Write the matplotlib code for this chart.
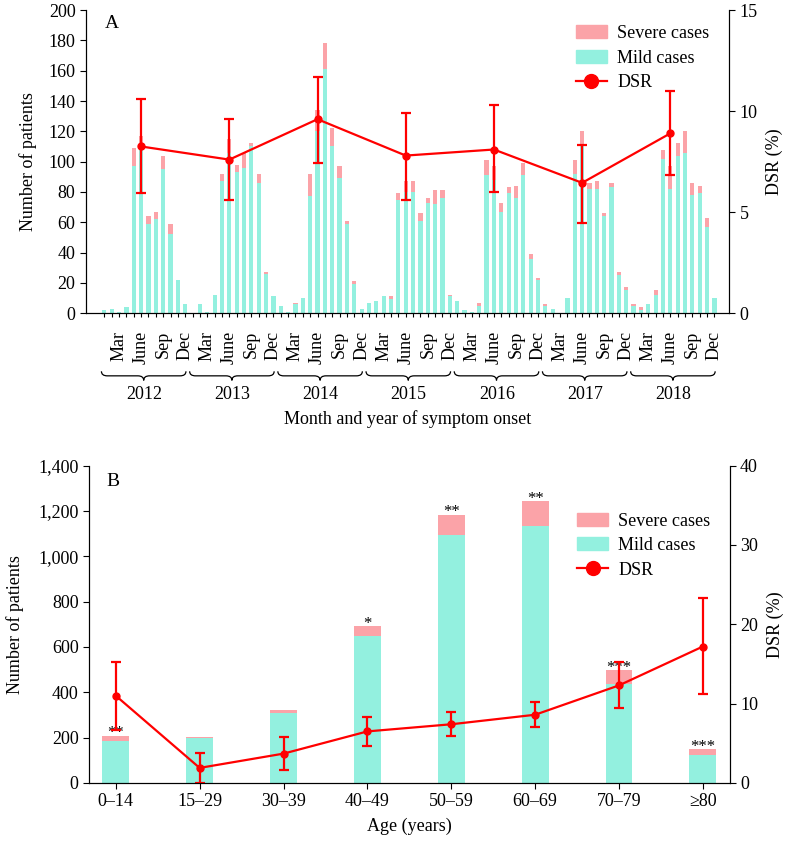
import numpy as np
import matplotlib
matplotlib.use('Agg')
from matplotlib import pyplot as plt
from matplotlib.patches import Patch, PathPatch
from matplotlib.lines import Line2D
from matplotlib.path import Path
from matplotlib.ticker import FuncFormatter
import matplotlib.transforms as mtransforms

plt.rcParams['font.family'] = ['Liberation Serif', 'DejaVu Serif']
plt.rcParams['font.size'] = 13

MILD = '#93f0df'
SEVERE = '#fba3a8'
RED = '#ff0000'

# Panel A: monthly counts 2012-2018
years = ['2012', '2013', '2014', '2015', '2016', '2017', '2018']
total_2012 = [2, 3, 1, 4, 109, 117, 64, 67, 104, 59, 22, 6]
mild_2012 = [2, 3, 1, 4, 97, 108, 59, 62, 95, 52, 22, 6]
total_2013 = [0, 6, 1, 12, 92, 115, 98, 106, 112, 92, 27, 11]
mild_2013 = [0, 6, 1, 12, 87, 106, 93, 96, 110, 86, 26, 11]
total_2014 = [5, 1, 7, 10, 92, 134, 178, 122, 97, 61, 21, 3]
mild_2014 = [5, 1, 6, 10, 77, 120, 161, 110, 89, 59, 19, 3]
total_2015 = [7, 8, 11, 11, 79, 87, 87, 66, 76, 81, 81, 12]
mild_2015 = [7, 8, 11, 9, 75, 80, 80, 61, 73, 72, 76, 11]
total_2016 = [8, 2, 1, 7, 101, 97, 73, 83, 84, 99, 39, 23]
mild_2016 = [8, 2, 1, 5, 91, 88, 67, 79, 76, 91, 36, 22]
total_2017 = [6, 3, 0, 10, 101, 120, 86, 87, 66, 86, 27, 17]
mild_2017 = [5, 3, 0, 10, 92, 111, 82, 82, 64, 83, 25, 15]
total_2018 = [6, 4, 6, 15, 108, 97, 112, 120, 86, 84, 63, 10]
mild_2018 = [5, 2, 6, 12, 102, 82, 104, 106, 78, 79, 57, 10]
month_labels = {2: 'Mar', 5: 'June', 8: 'Sep', 11: 'Dec'}

dsr_year = [8.25, 7.6, 9.6, 7.8, 8.1, 6.45, 8.9]
dsr_year_lo = [5.97, 5.6, 7.45, 5.6, 6.0, 4.45, 6.85]
dsr_year_hi = [10.6, 9.6, 11.7, 9.9, 10.3, 8.3, 11.0]

# Panel B: age groups
ages = ['0\u201314', '15\u201329', '30\u201339', '40\u201349', '50\u201359', '60\u201369', '70\u201379', '\u226580']
total_age = [208, 202, 321, 692, 1183, 1242, 497, 149]
mild_age = [184, 197, 308, 648, 1096, 1135, 437, 124]
dsr_age = [11.0, 1.9, 3.7, 6.5, 7.4, 8.6, 12.3, 17.2]
dsr_age_lo = [6.7, 0.0, 1.6, 4.6, 5.9, 7.0, 9.4, 11.2]
dsr_age_hi = [15.3, 3.8, 5.8, 8.3, 8.9, 10.2, 15.2, 23.3]
sig_age = ['**', '', '', '*', '**', '**', '***', '***']

total_month = np.array(total_2012 + total_2013 + total_2014 + total_2015 +
                       total_2016 + total_2017 + total_2018)
mild_month = np.array(mild_2012 + mild_2013 + mild_2014 + mild_2015 +
                      mild_2016 + mild_2017 + mild_2018)
severe_month = total_month - mild_month


def brace(ax, x0, x1, y_top, y_bot):
    # curly brace opening downward, x in data, y in axes fraction
    xm = (x0 + x1) / 2
    r = 0.8
    ym = (y_top + y_bot) / 2
    verts = [(x0, y_top), (x0, ym), (x0 + r, ym),
             (xm - r, ym), (xm, ym), (xm, y_bot),
             (xm, ym), (xm + r, ym),
             (x1 - r, ym), (x1, ym), (x1, y_top)]
    codes = [Path.MOVETO, Path.CURVE3, Path.CURVE3,
             Path.LINETO, Path.CURVE3, Path.CURVE3,
             Path.CURVE3, Path.CURVE3,
             Path.LINETO, Path.CURVE3, Path.CURVE3]
    trans = mtransforms.blended_transform_factory(ax.transData, ax.transAxes)
    ax.add_patch(PathPatch(Path(verts, codes), transform=trans, fill=False,
                           lw=0.9, color='black', clip_on=False))


fig = plt.figure(figsize=(7.94, 8.44), dpi=100)

# ---------------- Panel A ----------------
ax = fig.add_axes([0.1083, 0.629, 0.810, 0.359])
x = np.arange(len(total_month))
ax.bar(x, mild_month, width=0.57, color=MILD)
ax.bar(x, severe_month, width=0.57, bottom=mild_month, color=SEVERE)
ax.set_xlim(-2.5, 85)
ax.set_ylim(0, 200)
ax.set_yticks(range(0, 201, 20))
ax.set_ylabel('Number of patients', labelpad=8)
ax.set_xticks(x)
ax.set_xticklabels([month_labels.get(i % 12, '') for i in x], rotation=90)
ax.tick_params(axis='x', length=3, pad=10)
ax.tick_params(axis='y', length=4)
ax.spines['top'].set_visible(False)
ax.text(0.03, 0.955, 'A', transform=ax.transAxes, fontsize=14, va='center')

for k, yr in enumerate(years):
    brace(ax, 12 * k - 0.4, 12 * k + 11.1, -0.192, -0.222)
    trans = mtransforms.blended_transform_factory(ax.transData, ax.transAxes)
    ax.text(12 * k + 5.4, -0.268, yr, transform=trans, ha='center', va='center')
ax.text(0.5, -0.35, 'Month and year of symptom onset', transform=ax.transAxes,
        ha='center', va='center')

ax2 = ax.twinx()
xd = np.arange(len(years)) * 12 + 5
ax2.errorbar(xd, dsr_year,
             yerr=[np.array(dsr_year) - np.array(dsr_year_lo),
                   np.array(dsr_year_hi) - np.array(dsr_year)],
             color=RED, lw=1.6, marker='o', ms=5, capsize=3.5, capthick=1.6,
             elinewidth=1.6)
ax2.set_ylim(0, 15)
ax2.set_yticks([0, 5, 10, 15])
ax2.set_ylabel('DSR (%)', labelpad=6)
ax2.spines['top'].set_visible(False)
ax2.tick_params(axis='y', length=4)

handles = [Patch(color=SEVERE), Patch(color=MILD),
           Line2D([], [], color=RED, lw=1.6, marker='o', ms=10)]
ax2.legend(handles, ['Severe cases', 'Mild cases', 'DSR'], loc='upper left',
           bbox_to_anchor=(0.75, 0.975), frameon=False, handlelength=1.75,
           labelspacing=0.42, handletextpad=0.55, borderaxespad=0)

# ---------------- Panel B ----------------
bx = fig.add_axes([0.112, 0.0723, 0.807, 0.376])
xb = np.arange(len(ages))
severe_age = np.array(total_age) - np.array(mild_age)
bx.bar(xb, mild_age, width=0.32, color=MILD)
bx.bar(xb, severe_age, width=0.32, bottom=mild_age, color=SEVERE)
for xi, t, s in zip(xb, total_age, sig_age):
    if s:
        bx.annotate(s, (xi, t), xytext=(0, -4), textcoords='offset points',
                    ha='center', va='bottom', fontsize=12)
bx.set_xlim(-0.32, 7.32)
bx.set_ylim(0, 1400)
bx.set_yticks(range(0, 1401, 200))
bx.yaxis.set_major_formatter(FuncFormatter(lambda v, p: f'{int(v):,}'))
bx.set_xticks(xb)
bx.set_xticklabels(ages)
bx.set_xlabel('Age (years)', labelpad=5)
bx.set_ylabel('Number of patients', labelpad=10)
bx.spines['top'].set_visible(False)
bx.tick_params(axis='both', length=4)
bx.text(0.027, 0.95, 'B', transform=bx.transAxes, fontsize=14, va='center')

bx2 = bx.twinx()
bx2.errorbar(xb, dsr_age,
             yerr=[np.array(dsr_age) - np.array(dsr_age_lo),
                   np.array(dsr_age_hi) - np.array(dsr_age)],
             color=RED, lw=1.6, marker='o', ms=5, capsize=3.5, capthick=1.6,
             elinewidth=1.6)
bx2.set_ylim(0, 40)
bx2.set_yticks(range(0, 41, 10))
bx2.set_ylabel('DSR (%)', labelpad=6)
bx2.spines['top'].set_visible(False)
bx2.tick_params(axis='y', length=4)
bx2.legend(handles, ['Severe cases', 'Mild cases', 'DSR'], loc='upper left',
           bbox_to_anchor=(0.75, 0.875), frameon=False, handlelength=1.75,
           labelspacing=0.42, handletextpad=0.55, borderaxespad=0)

fig.savefig('out.png', dpi=100)
